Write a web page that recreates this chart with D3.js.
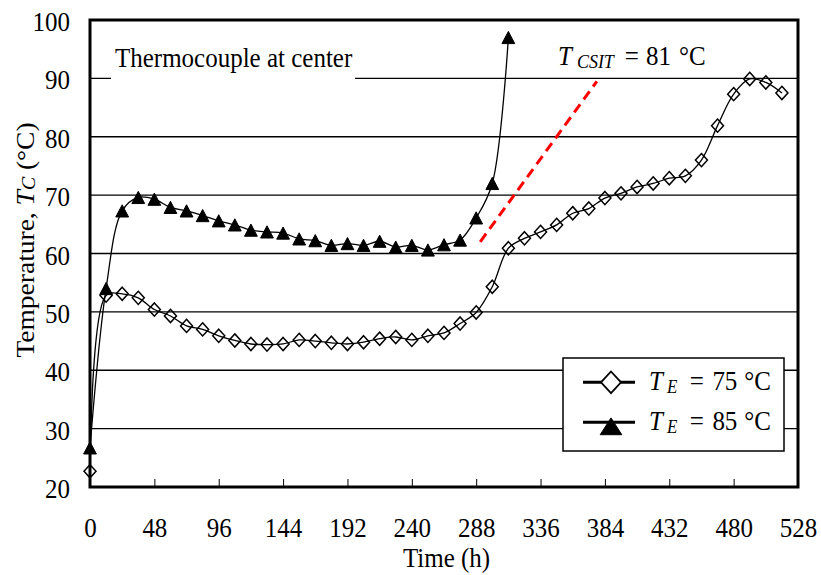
<!DOCTYPE html>
<html>
<head>
<meta charset="utf-8">
<script src="https://cdn.jsdelivr.net/npm/d3@7"></script>
<style>
  html, body { margin: 0; padding: 0; background: #fff; }
  svg { display: block; }
  text { font-family: "Liberation Serif", "Times New Roman", serif; fill: #000; }
</style>
</head>
<body>
<svg id="chart" width="821" height="575"></svg>
<script>
// Time axis (h) and temperature axis (°C) tick values
const xTicks = [0, 48, 96, 144, 192, 240, 288, 336, 384, 432, 480, 528];
const yTicks = [20, 30, 40, 50, 60, 70, 80, 90, 100];

// Center temperature, environment at 75 °C
const hours75 = [0, 12, 24, 36, 48, 60, 72, 84, 96, 108, 120, 132, 144, 156, 168, 180,
  192, 204, 216, 228, 240, 252, 264, 276, 288, 300, 312, 324, 336, 348, 360, 372,
  384, 396, 408, 420, 432, 444, 456, 468, 480, 492, 504, 516];
const temp75 = [22.7, 52.8, 53.1, 52.4, 50.4, 49.3, 47.6, 47.0, 45.9, 45.1, 44.5, 44.4,
  44.5, 45.2, 45.0, 44.7, 44.5, 44.8, 45.4, 45.7, 45.2, 45.9, 46.4, 48.0, 49.9, 54.3,
  60.9, 62.6, 63.7, 64.9, 66.9, 67.7, 69.5, 70.3, 71.4, 72.0, 72.9, 73.3, 76.0, 81.9,
  87.3, 89.9, 89.3, 87.5];

// Center temperature, environment at 85 °C
const hours85 = [0, 12, 24, 36, 48, 60, 72, 84, 96, 108, 120, 132, 144, 156, 168, 180,
  192, 204, 216, 228, 240, 252, 264, 276, 288, 300, 312];
const temp85 = [26.7, 54.0, 67.3, 69.6, 69.3, 67.9, 67.3, 66.5, 65.6, 64.9, 64.0, 63.7,
  63.5, 62.5, 62.2, 61.4, 61.7, 61.4, 62.1, 61.1, 61.4, 60.6, 61.5, 62.3, 66.1, 72.0, 97.0];

// Critical self-ignition temperature guide line
const csitHours = [291, 378];
const csitTemps = [62, 89.5];

const seriesLabels = ["75", "85"];

const svg = d3.select("#chart");
const margin = { left: 90, top: 20, right: 23, bottom: 88 };
const W = 821, H = 575;
const x = d3.scaleLinear().domain([0, 528]).range([margin.left, W - margin.right]);
const y = d3.scaleLinear().domain([20, 100]).range([H - margin.bottom, margin.top]);
const SY = 1.1; // slight vertical stretch of the lettering

// Gridlines
svg.append("g").selectAll("line")
  .data(yTicks.filter(d => d > 20 && d < 100))
  .join("line")
  .attr("x1", x(0)).attr("x2", x(528))
  .attr("y1", d => y(d)).attr("y2", d => y(d))
  .attr("stroke", "#000").attr("stroke-width", 1.3);

// Annotation box (covers the 90 gridline)
svg.append("rect").attr("x", 111).attr("y", 38).attr("width", 244).attr("height", 44).attr("fill", "#fff");
svg.append("text")
  .attr("transform", `translate(115,66.5) scale(1,${SY})`)
  .attr("font-size", 25)
  .text("Thermocouple at center");

// X axis with inward ticks
const xAxis = svg.append("g")
  .attr("transform", `translate(0,${y(20)})`)
  .call(d3.axisBottom(x).tickValues(xTicks).tickSizeInner(-8).tickSizeOuter(0).tickFormat(d3.format("d")));
xAxis.select(".domain").remove();
xAxis.selectAll(".tick line").attr("stroke", "#000").attr("stroke-width", 1);
xAxis.selectAll(".tick text")
  .attr("y", null).attr("dy", null)
  .attr("transform", `translate(0,49.7) scale(1,${SY})`)
  .attr("font-size", 25).attr("font-family", "Liberation Serif").attr("fill", "#000");

// Y axis labels
const yAxis = svg.append("g")
  .attr("transform", `translate(${x(0)},0)`)
  .call(d3.axisLeft(y).tickValues(yTicks).tickSize(0).tickFormat(d3.format("d")));
yAxis.select(".domain").remove();
yAxis.selectAll(".tick text")
  .attr("x", null).attr("dy", null)
  .attr("transform", `translate(-20,10.5) scale(1,${SY})`)
  .attr("font-size", 25).attr("font-family", "Liberation Serif").attr("fill", "#000");

// Red dashed CSIT guide
svg.append("line")
  .attr("x1", x(csitHours[0])).attr("y1", y(csitTemps[0]))
  .attr("x2", x(csitHours[1])).attr("y2", y(csitTemps[1]))
  .attr("stroke", "#ff0000").attr("stroke-width", 3)
  .attr("stroke-dasharray", "10,6");

const csit = svg.append("text")
  .attr("transform", `translate(558,65) scale(1,${SY})`)
  .attr("font-size", 25);
csit.append("tspan").attr("font-style", "italic").text("T");
csit.append("tspan").attr("font-style", "italic").attr("font-size", 18).attr("dx", 5).attr("dy", 3).text("CSIT");
csit.append("tspan").attr("dy", -3).attr("dx", 11).text("=");
csit.append("tspan").attr("dx", 7).text("81");
csit.append("tspan").attr("dx", 8).text("°C");

// Series lines
const line = d3.line().curve(d3.curveCatmullRom.alpha(0.5));
const pts75 = hours75.map((h, i) => [x(h), y(temp75[i])]);
const pts85 = hours85.map((h, i) => [x(h), y(temp85[i])]);

svg.append("path").attr("d", line(pts75)).attr("fill", "none").attr("stroke", "#000").attr("stroke-width", 1.3);
svg.append("path").attr("d", line(pts85)).attr("fill", "none").attr("stroke", "#000").attr("stroke-width", 1.3);

// Marker shapes
function diamondPath(hw, hh) {
  return `M0,${-hh}L${hw},0L0,${hh}L${-hw},0Z`;
}
function trianglePath(hw, hh) {
  return `M0,${-hh}L${hw},${hh}L${-hw},${hh}Z`;
}

svg.append("g").selectAll("path")
  .data(pts75).join("path")
  .attr("transform", d => `translate(${d[0]},${d[1]})`)
  .attr("d", diamondPath(6, 6.6))
  .attr("fill", "none").attr("stroke", "#000").attr("stroke-width", 1.5);

svg.append("g").selectAll("path")
  .data(pts85).join("path")
  .attr("transform", d => `translate(${d[0]},${d[1]})`)
  .attr("d", trianglePath(6.4, 6.1))
  .attr("fill", "#000").attr("stroke", "#000").attr("stroke-width", 1);

// Plot frame
svg.append("rect")
  .attr("x", x(0)).attr("y", y(100))
  .attr("width", x(528) - x(0)).attr("height", y(20) - y(100))
  .attr("fill", "none").attr("stroke", "#000").attr("stroke-width", 3);

// Legend
const lg = svg.append("g");
lg.append("rect").attr("x", 563).attr("y", 358).attr("width", 221).attr("height", 93)
  .attr("fill", "#fff").attr("stroke", "#000").attr("stroke-width", 1.5);
const rows = [382.3, 422.3];
seriesLabels.forEach((lab, i) => {
  const ry = rows[i];
  lg.append("line").attr("x1", 583).attr("x2", 635).attr("y1", ry).attr("y2", ry)
    .attr("stroke", "#000").attr("stroke-width", 3);
  if (i === 0) {
    lg.append("path").attr("transform", `translate(611,${ry})`)
      .attr("d", diamondPath(10, 10.8))
      .attr("fill", "#fff").attr("stroke", "#000").attr("stroke-width", 1.8);
  } else {
    lg.append("path").attr("transform", `translate(611,${ry + 4})`)
      .attr("d", trianglePath(10.8, 8.4))
      .attr("fill", "#000").attr("stroke", "#000").attr("stroke-width", 1);
  }
  const t = lg.append("text")
    .attr("transform", `translate(649,${ry + 7.5}) scale(1,${SY})`)
    .attr("font-size", 25);
  t.append("tspan").attr("font-style", "italic").text("T");
  t.append("tspan").attr("font-style", "italic").attr("font-size", 17).attr("dx", 4).attr("dy", 3).text("E");
  t.append("tspan").attr("dy", -3).attr("dx", 12.5).text("=");
  t.append("tspan").attr("dx", 8.5).text(lab);
  t.append("tspan").attr("dx", 7).text("°C");
});

// Axis titles
svg.append("text")
  .attr("transform", `translate(446.5,567) scale(1,${SY})`)
  .attr("text-anchor", "middle").attr("font-size", 25)
  .text("Time (h)");

const yt = svg.append("text")
  .attr("transform", `translate(33.5,240) rotate(-90) scale(${SY},1)`)
  .attr("text-anchor", "middle").attr("font-size", 25);
yt.append("tspan").text("Temperature, ");
yt.append("tspan").attr("font-style", "italic").text("T");
yt.append("tspan").attr("font-style", "italic").attr("font-size", 18).attr("dy", 1).text("C");
yt.append("tspan").attr("dy", -1).text(" (°C)");
</script>
</body>
</html>
